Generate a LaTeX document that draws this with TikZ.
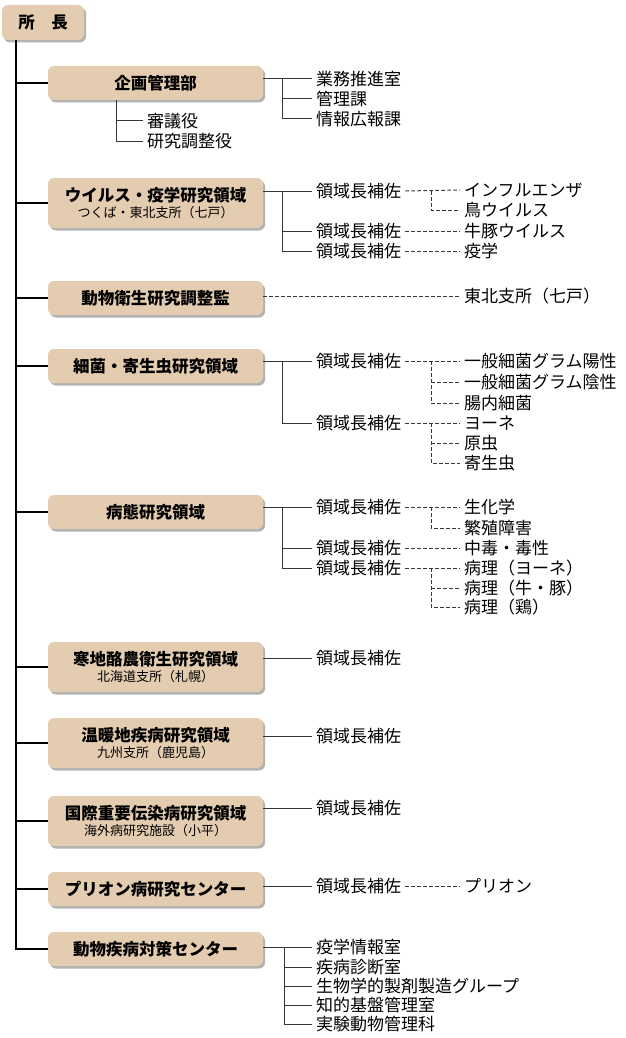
\documentclass[tikz,border=0pt]{standalone}
\usepackage{fontspec}
\setmainfont{Noto Sans CJK JP}
\usetikzlibrary{shadows}
\definecolor{boxtan}{RGB}{228,204,176}
\definecolor{linegray}{RGB}{55,55,55}
\tikzstyle{unit} = [rectangle, rounded corners=6pt, minimum width=215pt, minimum height=34pt, text centered, align=center, fill=boxtan, font=\fontsize{16.5}{19}\selectfont\bfseries, drop shadow={shadow xshift=2pt, shadow yshift=-2.5pt, fill=black, opacity=0.3}]
\tikzstyle{tall} = [minimum height=50pt]
\tikzstyle{post} = [anchor=west, inner xsep=4pt, inner ysep=0pt, font=\fontsize{17}{18}\selectfont]
\tikzstyle{trunk} = [line width=1.8pt, black]
\tikzstyle{link} = [line width=1pt, linegray]
\tikzstyle{dotlink} = [link, dash pattern=on 3.5pt off 2.5pt]
\newcommand{\branchsite}[1]{\\[-3pt]{\fontsize{13}{15}\selectfont\mdseries #1}}

\begin{document}
\begin{tikzpicture}[x=1pt, y=-1pt]
    \useasboundingbox (0,0) rectangle (625,1038);

    % Boxes
    \node (chief) [unit, minimum width=82pt, minimum height=35pt] at (43,22.5) {所　長};
    \node (plan) [unit] at (155.5,83) {企画管理部};
    \node (virus) [unit, tall] at (155.5,203) {ウイルス・疫学研究領域\branchsite{つくば・東北支所（七戸）}};
    \node (coord) [unit] at (155.5,298) {動物衛生研究調整監};
    \node (bact) [unit] at (155.5,366) {細菌・寄生虫研究領域};
    \node (path) [unit] at (155.5,512) {病態研究領域};
    \node (dairy) [unit, tall] at (155.5,667) {寒地酪農衛生研究領域\branchsite{北海道支所（札幌）}};
    \node (warm) [unit, tall] at (155.5,743) {温暖地疾病研究領域\branchsite{九州支所（鹿児島）}};
    \node (intl) [unit, tall] at (155.5,821) {国際重要伝染病研究領域\branchsite{海外病研究施設（小平）}};
    \node (prion) [unit] at (155.5,889) {プリオン病研究センター};
    \node (ctr) [unit] at (155.5,949) {動物疾病対策センター};

    % Trunk
    \coordinate (top) at (16,40);
    \draw [trunk] (top) |- (ctr.west);
    \foreach \n in {plan,virus,coord,bact,path,dairy,warm,intl,prion}
        \draw [trunk] (top |- \n.west) -- (\n.west);

    % 企画管理部
    \node (p1) [post] at (312,79) {業務推進室};
    \node (p2) [post] at (312,99) {管理課};
    \node (p3) [post] at (312,119) {情報広報課};
    \node (p4) [post] at (143,121) {審議役};
    \node (p5) [post] at (143,141) {研究調整役};
    \coordinate (jp) at (282,79);
    \coordinate (jq) at (116,100);
    \draw [link] (plan.east |- p1.west) -- (p1.west);
    \draw [link] (jp) |- (p3.west);
    \draw [link] (jp |- p2.west) -- (p2.west);
    \draw [link] (jq) |- (p5.west);
    \draw [link] (jq |- p4.west) -- (p4.west);

    % ウイルス・疫学研究領域
    \node (v1) [post] at (312,191) {領域長補佐};
    \node (v2) [post] at (312,231) {領域長補佐};
    \node (v3) [post] at (312,251) {領域長補佐};
    \node (v1a) [post] at (460,190) {インフルエンザ};
    \node (v1b) [post] at (460,210) {鳥ウイルス};
    \node (v2a) [post] at (460,231) {牛豚ウイルス};
    \node (v3a) [post] at (460,251) {疫学};
    \coordinate (jv) at (282,191);
    \coordinate (kv) at (431,191);
    \draw [link] (virus.east |- v1.west) -- (v1.west);
    \draw [link] (jv) |- (v3.west);
    \draw [link] (jv |- v2.west) -- (v2.west);
    \draw [dotlink] (v1.east) -- (v1a.west);
    \draw [dotlink] (kv) |- (v1b.west);
    \draw [dotlink] (v2.east) -- (v2a.west);
    \draw [dotlink] (v3.east) -- (v3a.west);

    % 動物衛生研究調整監
    \node (c1) [post] at (460,296) {東北支所（七戸）};
    \draw [dotlink] (coord.east |- c1.west) -- (c1.west);

    % 細菌・寄生虫研究領域
    \node (b1) [post] at (312,361) {領域長補佐};
    \node (b2) [post] at (312,423) {領域長補佐};
    \node (b1a) [post] at (460,361) {一般細菌グラム陽性};
    \node (b1b) [post] at (460,382) {一般細菌グラム陰性};
    \node (b1c) [post] at (460,403) {腸内細菌};
    \node (b2a) [post] at (460,423) {ヨーネ};
    \node (b2b) [post] at (460,443) {原虫};
    \node (b2c) [post] at (460,463) {寄生虫};
    \coordinate (jb) at (282,361);
    \coordinate (kb) at (431,361);
    \coordinate (lb) at (431,423);
    \draw [link] (bact.east |- b1.west) -- (b1.west);
    \draw [link] (jb) |- (b2.west);
    \draw [dotlink] (b1.east) -- (b1a.west);
    \draw [dotlink] (kb) |- (b1c.west);
    \draw [dotlink] (kb |- b1b.west) -- (b1b.west);
    \draw [dotlink] (b2.east) -- (b2a.west);
    \draw [dotlink] (lb) |- (b2c.west);
    \draw [dotlink] (lb |- b2b.west) -- (b2b.west);

    % 病態研究領域
    \node (q1) [post] at (312,507) {領域長補佐};
    \node (q2) [post] at (312,548) {領域長補佐};
    \node (q3) [post] at (312,568) {領域長補佐};
    \node (q1a) [post] at (460,507) {生化学};
    \node (q1b) [post] at (460,528) {繁殖障害};
    \node (q2a) [post] at (460,548) {中毒・毒性};
    \node (q3a) [post] at (460,568) {病理（ヨーネ）};
    \node (q3b) [post] at (460,588) {病理（牛・豚）};
    \node (q3c) [post] at (460,607) {病理（鶏）};
    \coordinate (jq2) at (282,507);
    \coordinate (kq) at (431,507);
    \coordinate (lq) at (431,568);
    \draw [link] (path.east |- q1.west) -- (q1.west);
    \draw [link] (jq2) |- (q3.west);
    \draw [link] (jq2 |- q2.west) -- (q2.west);
    \draw [dotlink] (q1.east) -- (q1a.west);
    \draw [dotlink] (kq) |- (q1b.west);
    \draw [dotlink] (q2.east) -- (q2a.west);
    \draw [dotlink] (q3.east) -- (q3a.west);
    \draw [dotlink] (lq) |- (q3c.west);
    \draw [dotlink] (lq |- q3b.west) -- (q3b.west);

    % 支所・施設
    \node (d1) [post] at (312,658) {領域長補佐};
    \node (w1) [post] at (312,736) {領域長補佐};
    \node (i1) [post] at (312,808) {領域長補佐};
    \draw [link] (dairy.east |- d1.west) -- (d1.west);
    \draw [link] (warm.east |- w1.west) -- (w1.west);
    \draw [link] (intl.east |- i1.west) -- (i1.west);

    % プリオン病研究センター
    \node (r1) [post] at (312,886) {領域長補佐};
    \node (r1a) [post] at (460,886) {プリオン};
    \draw [link] (prion.east |- r1.west) -- (r1.west);
    \draw [dotlink] (r1.east) -- (r1a.west);

    % 動物疾病対策センター
    \node (k1) [post] at (312,947) {疫学情報室};
    \node (k2) [post] at (312,967) {疾病診断室};
    \node (k3) [post] at (312,986) {生物学的製剤製造グループ};
    \node (k4) [post] at (312,1005) {知的基盤管理室};
    \node (k5) [post] at (312,1024) {実験動物管理科};
    \coordinate (jk) at (284,947);
    \draw [link] (ctr.east |- k1.west) -- (k1.west);
    \draw [link] (jk) |- (k5.west);
    \foreach \n in {k2,k3,k4}
        \draw [link] (jk |- \n.west) -- (\n.west);
\end{tikzpicture}
\end{document}
